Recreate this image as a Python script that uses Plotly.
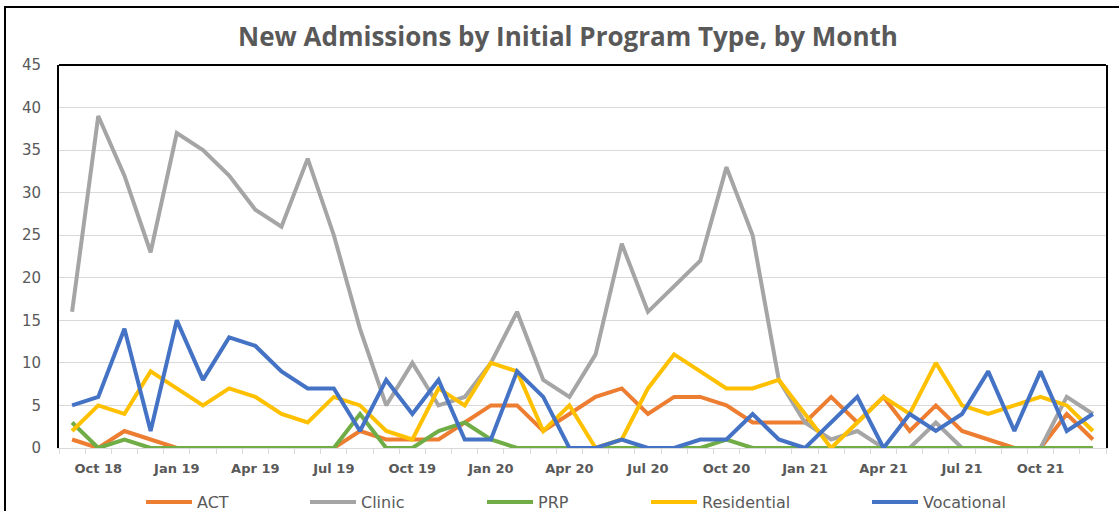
import plotly.graph_objects as go

months = ["Sep 18", "Oct 18", "Nov 18", "Dec 18", "Jan 19", "Feb 19", "Mar 19", "Apr 19",
          "May 19", "Jun 19", "Jul 19", "Aug 19", "Sep 19", "Oct 19", "Nov 19", "Dec 19",
          "Jan 20", "Feb 20", "Mar 20", "Apr 20", "May 20", "Jun 20", "Jul 20", "Aug 20",
          "Sep 20", "Oct 20", "Nov 20", "Dec 20", "Jan 21", "Feb 21", "Mar 21", "Apr 21",
          "May 21", "Jun 21", "Jul 21", "Aug 21", "Sep 21", "Oct 21", "Nov 21", "Dec 21"]

act = [1, 0, 2, 1, 0, 0, 0, 0, 0, 0, 0, 2, 1, 1, 1, 3, 5, 5, 2, 4,
       6, 7, 4, 6, 6, 5, 3, 3, 3, 6, 3, 6, 2, 5, 2, 1, 0, 0, 4, 1]
clinic = [16, 39, 32, 23, 37, 35, 32, 28, 26, 34, 25, 14, 5, 10, 5, 6, 10, 16, 8, 6,
          11, 24, 16, 19, 22, 33, 25, 8, 3, 1, 2, 0, 0, 3, 0, 0, 0, 0, 6, 4]
prp = [3, 0, 1, 0, 0, 0, 0, 0, 0, 0, 0, 4, 0, 0, 2, 3, 1, 0, 0, 0,
       0, 0, 0, 0, 0, 1, 0, 0, 0, 0, 0, 0, 0, 0, 0, 0, 0, 0, 0, 0]
residential = [2, 5, 4, 9, 7, 5, 7, 6, 4, 3, 6, 5, 2, 1, 7, 5, 10, 9, 2, 5,
               0, 1, 7, 11, 9, 7, 7, 8, 4, 0, 3, 6, 4, 10, 5, 4, 5, 6, 5, 2]
vocational = [5, 6, 14, 2, 15, 8, 13, 12, 9, 7, 7, 2, 8, 4, 8, 1, 1, 9, 6, 0,
              0, 1, 0, 0, 1, 1, 4, 1, 0, 3, 6, 0, 4, 2, 4, 9, 2, 9, 2, 4]

series = [("ACT", act, "#ED7D31"), ("Clinic", clinic, "#A5A5A5"), ("PRP", prp, "#70AD47"),
          ("Residential", residential, "#FFC000"), ("Vocational", vocational, "#4472C4")]

TITLE_FONT = "Open Sans"
TEXT_FONT = "DejaVu Sans"
GREY = "#595959"
W, H = 1119, 511
L, R, T, B = 59, 13, 65, 63
pw, ph = W - L - R, H - T - B

def px_x(p):
    return (p - L) / pw

def px_y(p):
    return (H - B - p) / ph

x = list(range(len(months)))
tick_idx = [i for i, m in enumerate(months) if m.split()[0] in ("Jan", "Apr", "Jul", "Oct")]

fig = go.Figure()
legend_starts = [147, 311, 488, 652, 873]
layout_legends = {}
for k, (name, vals, col) in enumerate(series):
    lname = "legend" if k == 0 else f"legend{k + 1}"
    fig.add_trace(go.Scatter(x=x, y=vals, mode="lines", name=name,
                             line=dict(color=col, width=4), legend=lname))
    layout_legends[lname] = dict(
        x=px_x(legend_starts[k] - 6), xanchor="left", y=px_y(502), yanchor="middle",
        orientation="h", bgcolor="rgba(0,0,0,0)", itemwidth=46,
        font=dict(family=TEXT_FONT, size=16, color=GREY))

fig.update_layout(
    width=W, height=H,
    margin=dict(l=L, r=R, t=T, b=B, autoexpand=False),
    paper_bgcolor="white", plot_bgcolor="white",
    title=dict(text="<b>New Admissions by Initial Program Type, by Month</b>",
               x=px_x(568), xref="paper", xanchor="center",
               y=1 - 37 / H, yref="container", yanchor="middle",
               font=dict(family=TITLE_FONT, size=26, color=GREY)),
    showlegend=True,
    **layout_legends,
    xaxis=dict(range=[-0.5, len(months) - 0.5], tickmode="array", tickvals=tick_idx,
               ticktext=[f"<b>{months[i]}</b>" for i in tick_idx], ticks="",
               showgrid=False, zeroline=False, showline=True, linecolor="#D9D9D9", linewidth=1,
               ticklabelstandoff=8,
               tickfont=dict(family=TEXT_FONT, size=13, color=GREY),
               minor=dict(tickmode="linear", tick0=-0.5, dtick=1, ticks="outside",
                          ticklen=5, tickcolor="#D9D9D9", tickwidth=1, showgrid=False)),
    yaxis=dict(range=[0, 45], dtick=5, showgrid=True, gridcolor="#D9D9D9", gridwidth=1,
               zeroline=False, showline=True, linecolor="black", linewidth=2, mirror=True,
               ticks="", ticklabelstandoff=13,
               tickfont=dict(family=TEXT_FONT, size=15, color=GREY)),
    shapes=[
        dict(type="line", xref="paper", yref="paper", x0=0, x1=1, y0=1, y1=1,
             line=dict(color="black", width=2), layer="above"),
        dict(type="rect", xref="paper", yref="paper",
             x0=px_x(5), x1=px_x(1130), y0=px_y(530), y1=px_y(7),
             line=dict(color="black", width=2), fillcolor="rgba(0,0,0,0)"),
    ],
)

fig.write_html("out.html", config={"displayModeBar": False},
               post_script="document.body.style.margin='0px';document.body.style.overflow='hidden';")
